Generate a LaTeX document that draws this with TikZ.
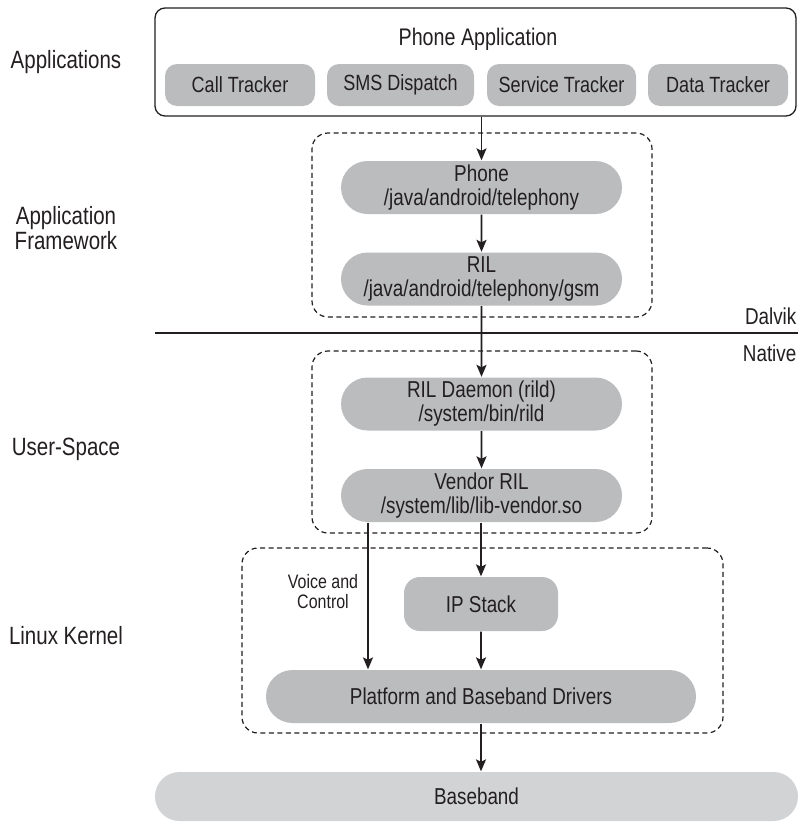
\documentclass[tikz,border=0pt]{standalone}
\usepackage{fontspec}
\setmainfont{Liberation Sans}[FakeStretch=0.82]
\usetikzlibrary{arrows.meta, positioning, shapes.misc}
\definecolor{cpill}{HTML}{BBBCBE}
\definecolor{cbase}{HTML}{D2D3D5}
\definecolor{cink}{HTML}{231F20}
\tikzset{
  every picture/.style={line width=1.3pt, color=cink},
  pill/.style={rounded rectangle, fill=cpill, align=center, inner sep=0pt, minimum height=53pt, font=\fontsize{23}{24}\selectfont},
  tab/.style={rectangle, rounded corners=12pt, fill=cpill, inner sep=0pt, minimum height=42pt, font=\fontsize{22}{24}\selectfont},
  group/.style={draw, dash pattern=on 5pt off 3.5pt, rounded corners=16pt, line width=1.2pt, inner sep=0pt},
  layer/.style={align=center, font=\fontsize{25}{23}\selectfont},
  side/.style={inner sep=0pt, font=\fontsize{23}{24}\selectfont},
  arrow/.style={-{Stealth[length=12pt, width=10pt, inset=2.5pt]}, line width=1.8pt},
}

\begin{document}
\begin{tikzpicture}[x=1pt, y=-1pt]
  \useasboundingbox (0,0) rectangle (798,822);
  % layer names on the left
  \node[layer] (lapps) at (66,62) {Applications};
  \node[layer] (lfw) at (66,228) {Application\\Framework};
  \node[layer] (luser) at (66,449) {User-Space};
  \node[layer] (lkernel) at (66,636) {Linux Kernel};
  % applications
  \node[draw, rounded corners=10pt, minimum width=641pt, minimum height=108pt] (app) at (475.5,62) {};
  \node[font=\fontsize{24}{24}\selectfont] (apptitle) at (478,39) {Phone Application};
  \node[tab, minimum width=150pt] (call) at (240,85) {Call Tracker};
  \node[tab, minimum width=147pt] (sms) at (400.5,85) {SMS Dispatch};
  \node[tab, minimum width=149pt] (service) at (561.5,85) {Service Tracker};
  \node[tab, minimum width=140pt] (data) at (718,85) {Data Tracker};
  % framework
  \node[group, minimum width=340pt, minimum height=184pt] (fwgroup) at (482,225) {};
  \node[pill, minimum width=281pt] (phone) at (481.5,187.5) {Phone\\/java/android/telephony};
  \node[pill, minimum width=281pt] (ril) at (481.5,279) {RIL\\/java/android/telephony/gsm};
  % dalvik / native split
  \coordinate (splitl) at (155,333);
  \coordinate (splitr) at (798,333);
  \draw[line width=1.5pt] (splitl) -- (splitr);
  \node[side, anchor=east] (dalvik) at (797,316) {Dalvik};
  \node[side, anchor=east] (native) at (797,353) {Native};
  % user space
  \node[group, minimum width=340pt, minimum height=182pt] (usgroup) at (482,442) {};
  \node[pill, minimum width=281pt] (rild) at (481.5,404) {RIL Daemon (rild)\\/system/bin/rild};
  \node[pill, minimum width=281pt] (vendor) at (481.5,495.5) {Vendor RIL\\/system/lib/lib-vendor.so};
  % kernel
  \node[group, minimum width=481pt, minimum height=185pt] (lkgroup) at (482.5,640.5) {};
  \node[tab, rounded corners=16pt, minimum width=154pt, minimum height=54pt, font=\fontsize{23}{24}\selectfont] (ipstack) at (481,604) {IP Stack};
  \node[align=center, font=\fontsize{19.5}{20}\selectfont] (voice) at (323,592) {Voice and\\Control};
  \node[pill, minimum width=430pt] (platform) at (481,696.5) {Platform and Baseband Drivers};
  \node[pill, fill=cbase, minimum width=643pt, minimum height=49pt] (baseband) at (476.5,796.5) {Baseband};
  \coordinate (vc) at (368,0);
  % connectors
  \draw[arrow] (phone.north |- app.south) -- (phone.north);
  \draw[arrow] (phone) -- (ril);
  \draw[arrow] (ril) -- (rild);
  \draw[arrow] (rild) -- (vendor);
  \draw[arrow] (vendor.south -| vc) -- (platform.north -| vc);
  \draw[arrow] (vendor.south -| ipstack.north) -- (ipstack.north);
  \draw[arrow] (ipstack) -- (platform);
  \draw[arrow] (platform.south) -- (platform.south |- baseband.north);
\end{tikzpicture}
\end{document}
